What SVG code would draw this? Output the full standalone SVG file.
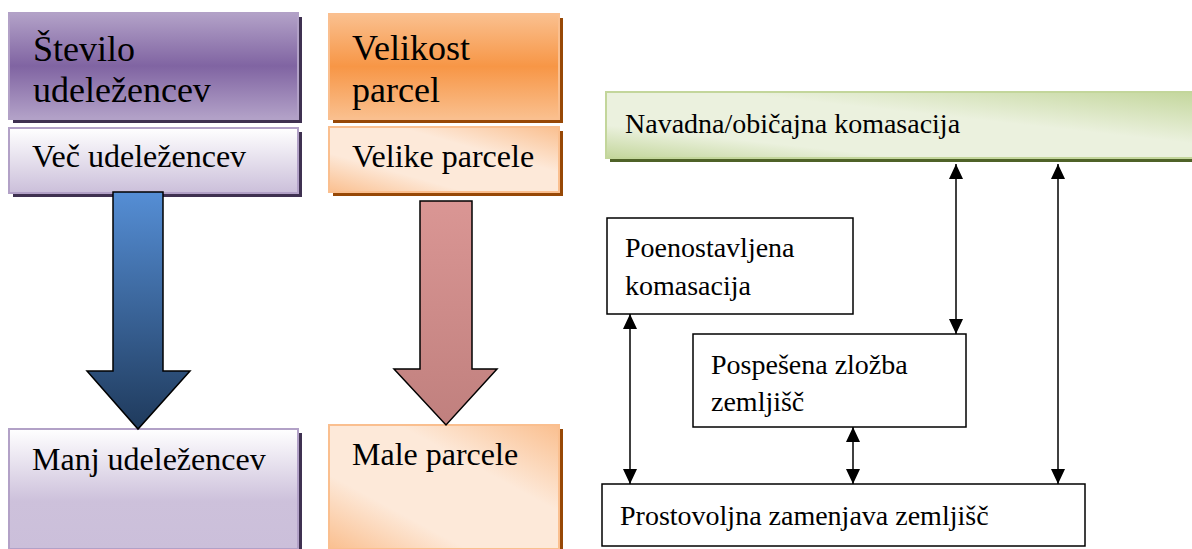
<svg xmlns="http://www.w3.org/2000/svg" width="1192" height="549" viewBox="0 0 1192 549">
  <defs>
    <linearGradient id="gPurpleHead" x1="0" y1="0" x2="0" y2="1">
      <stop offset="0" stop-color="#b3a2c8"/>
      <stop offset="0.5" stop-color="#8064a2"/>
      <stop offset="1" stop-color="#b3a2c8"/>
    </linearGradient>
    <linearGradient id="gPurpleLight" x1="0" y1="0" x2="0" y2="1">
      <stop offset="0" stop-color="#ffffff"/>
      <stop offset="1" stop-color="#cbbfda"/>
    </linearGradient>
    <linearGradient id="gPurpleTall" x1="0" y1="0" x2="0" y2="1">
      <stop offset="0" stop-color="#ffffff"/>
      <stop offset="0.6" stop-color="#cdc1db"/>
      <stop offset="1" stop-color="#cbbfda"/>
    </linearGradient>
    <linearGradient id="gOrangeHead" x1="0" y1="0" x2="0" y2="1">
      <stop offset="0" stop-color="#fac08f"/>
      <stop offset="0.5" stop-color="#f79646"/>
      <stop offset="1" stop-color="#fac08f"/>
    </linearGradient>
    <linearGradient id="gOrangeLight" x1="0" y1="1" x2="1" y2="0">
      <stop offset="0" stop-color="#fabf8f"/>
      <stop offset="0.3" stop-color="#fde9d9"/>
      <stop offset="0.65" stop-color="#fde9d9"/>
      <stop offset="1" stop-color="#fabf8f"/>
    </linearGradient>
    <linearGradient id="gGreen" x1="0" y1="1" x2="1" y2="0">
      <stop offset="0" stop-color="#c3d69b"/>
      <stop offset="0.25" stop-color="#ebf1de"/>
      <stop offset="0.6" stop-color="#ebf1de"/>
      <stop offset="1" stop-color="#c3d69b"/>
    </linearGradient>
    <linearGradient id="gBlue" x1="0" y1="0" x2="0" y2="1">
      <stop offset="0" stop-color="#558ed5"/>
      <stop offset="1" stop-color="#1f3a5c"/>
    </linearGradient>
    <linearGradient id="gPink" x1="0" y1="0" x2="0" y2="1">
      <stop offset="0" stop-color="#da9694"/>
      <stop offset="1" stop-color="#c0807e"/>
    </linearGradient>
    <marker id="ah" viewBox="0 0 15 14" refX="15" refY="7" markerWidth="15" markerHeight="14" markerUnits="userSpaceOnUse" orient="auto-start-reverse">
      <path d="M0,0 L15,7 L0,14 Z" fill="#000"/>
    </marker>
  </defs>

  <!-- Left column: number of participants -->
  <g id="stevilo-head">
    <rect fill="#3f3151" x="13" y="17" width="289" height="106"/>
    <rect stroke="#b2a1c7" stroke-width="2" x="9" y="13" width="289" height="106" fill="url(#gPurpleHead)"/>
    <text font-family="Liberation Serif" font-size="36" x="33" y="61">Število</text>
    <text font-family="Liberation Serif" font-size="36" x="33" y="102">udeležencev</text>
  </g>
  <g id="vec">
    <rect fill="#3f3151" x="13" y="132" width="289" height="65"/>
    <rect stroke="#b2a1c7" stroke-width="2" x="9" y="128" width="289" height="65" fill="url(#gPurpleLight)"/>
    <text font-family="Liberation Serif" font-size="32" x="32" y="167">Več udeležencev</text>
  </g>
  <g id="manj">
    <rect fill="#3f3151" x="13" y="433" width="289" height="120"/>
    <rect stroke="#b2a1c7" stroke-width="2" x="9" y="429" width="289" height="120" fill="url(#gPurpleTall)"/>
    <text font-family="Liberation Serif" font-size="32" x="32" y="470">Manj udeležencev</text>
  </g>

  <!-- Middle column: parcel size -->
  <g id="velikost-head">
    <rect fill="#974806" x="333" y="18" width="230" height="105"/>
    <rect stroke="#fabf8f" stroke-width="2" x="329" y="14" width="230" height="105" fill="url(#gOrangeHead)"/>
    <text font-family="Liberation Serif" font-size="36" x="352" y="60">Velikost</text>
    <text font-family="Liberation Serif" font-size="36" x="352" y="102">parcel</text>
  </g>
  <g id="velike">
    <rect fill="#974806" x="333" y="131" width="230" height="65"/>
    <rect stroke="#fabf8f" stroke-width="2" x="329" y="127" width="230" height="65" fill="url(#gOrangeLight)"/>
    <text font-family="Liberation Serif" font-size="32" x="352" y="167">Velike parcele</text>
  </g>
  <g id="male">
    <rect fill="#974806" x="333" y="429" width="230" height="124"/>
    <rect stroke="#fabf8f" stroke-width="2" x="329" y="425" width="230" height="124" fill="url(#gOrangeLight)"/>
    <text font-family="Liberation Serif" font-size="32" x="352" y="465">Male parcele</text>
  </g>

  <!-- Block arrows -->
  <g id="block-arrows" stroke="#000" stroke-width="1.5">
    <path fill="url(#gBlue)" d="M113,192 L163,192 L163,371 L190,371 L138,429 L87,371 L113,371 Z"/>
    <path fill="url(#gPink)" d="M420,201 L472,201 L472,369 L497,369 L446,425 L394,369 L420,369 Z"/>
  </g>

  <!-- Right part: types of land consolidation -->
  <g id="navadna">
    <rect fill="#4f6228" x="610" y="96" width="590" height="66"/>
    <rect stroke="#c3d69b" stroke-width="2" x="606" y="92" width="600" height="66" fill="url(#gGreen)"/>
    <text font-family="Liberation Serif" font-size="28" x="625" y="133">Navadna/običajna komasacija</text>
  </g>
  <g id="poenostavljena">
    <rect fill="#fff" stroke="#000" stroke-width="1.5" x="607" y="218" width="246" height="96"/>
    <text font-family="Liberation Serif" font-size="28" x="625" y="257">Poenostavljena</text>
    <text font-family="Liberation Serif" font-size="28" x="625" y="295">komasacija</text>
  </g>
  <g id="pospesena">
    <rect fill="#fff" stroke="#000" stroke-width="1.5" x="693" y="334" width="273" height="93"/>
    <text font-family="Liberation Serif" font-size="28" x="711" y="374">Pospešena zložba</text>
    <text font-family="Liberation Serif" font-size="28" x="711" y="411">zemljišč</text>
  </g>
  <g id="prostovoljna">
    <rect fill="#fff" stroke="#000" stroke-width="1.5" x="602" y="484" width="483" height="62"/>
    <text font-family="Liberation Serif" font-size="28" x="620" y="525">Prostovoljna zamenjava zemljišč</text>
  </g>

  <g id="connectors" stroke="#000" stroke-width="1.5" fill="none" marker-start="url(#ah)" marker-end="url(#ah)">
    <line x1="956" y1="164" x2="956" y2="334"/>
    <line x1="1058" y1="164" x2="1058" y2="484"/>
    <line x1="630" y1="314" x2="630" y2="484"/>
    <line x1="853" y1="427" x2="853" y2="484"/>
  </g>
</svg>
